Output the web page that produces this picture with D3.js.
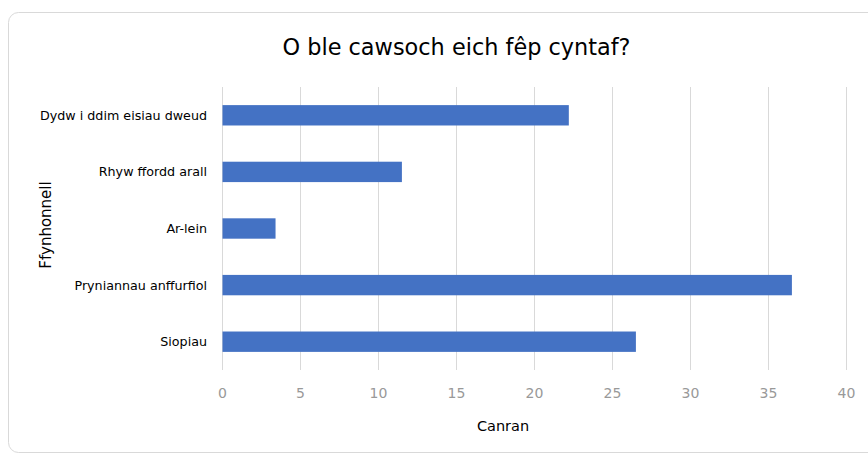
<!DOCTYPE html>
<html>
<head>
<meta charset="utf-8">
<script src="https://cdn.jsdelivr.net/npm/d3@7"></script>
<style>
  body { margin: 0; background: #fff; }
  text { font-family: "DejaVu Sans", sans-serif; }
</style>
</head>
<body>
<div id="chart"></div>
<script>
let width = 868,
	height = 455;

const title = 'O ble cawsoch eich fêp cyntaf?';
const categories = ['Dydw i ddim eisiau dweud', 'Rhyw ffordd arall', 'Ar-lein', 'Pryniannau anffurfiol', 'Siopiau'];
const values = [22.2, 11.5, 3.4, 36.5, 26.5];
const xTicks = [0, 5, 10, 15, 20, 25, 30, 35, 40];
const xTitle = 'Canran';
const yTitle = 'Ffynhonnell';

let svg = d3.select('#chart').append('svg').attr('width', width).attr('height', height);

// chart frame
svg.append('rect')
	.attr('x', 8.5).attr('y', 12.5)
	.attr('width', 880).attr('height', 440)
	.attr('rx', 10)
	.attr('fill', '#fff').attr('stroke', '#d9d9d9');

let x = d3.scaleLinear().domain([0, 40]).range([222, 846]);
let y = d3.scaleBand().domain(categories).range([87, 370]).paddingInner(0.64).paddingOuter(0.32);

// gridlines
svg.append('g').selectAll('line').data(xTicks).enter().append('line')
	.attr('x1', d => x(d) + 0.5).attr('x2', d => x(d) + 0.5)
	.attr('y1', 87).attr('y2', 370)
	.attr('stroke', '#d9d9d9').attr('stroke-width', 1);

// bars
svg.append('g').selectAll('rect').data(values).enter().append('rect')
	.attr('x', x(0) + 0.5)
	.attr('y', (d, i) => y(categories[i]))
	.attr('width', d => x(d) - x(0))
	.attr('height', y.bandwidth())
	.attr('fill', '#4472c4');

// x tick labels
svg.append('g').selectAll('text').data(xTicks).enter().append('text')
	.attr('x', d => x(d) + 0.5).attr('y', 398)
	.attr('text-anchor', 'middle')
	.attr('font-size', 14)
	.attr('fill', '#999')
	.text(d => d);

// category labels
svg.append('g').selectAll('text').data(categories).enter().append('text')
	.attr('x', 207)
	.attr('y', d => y(d) + y.bandwidth() / 2 + 4.5)
	.attr('text-anchor', 'end')
	.attr('font-size', 12.7)
	.attr('fill', '#000')
	.text(d => d);

// titles
svg.append('text')
	.attr('x', 456.5).attr('y', 55)
	.attr('text-anchor', 'middle')
	.attr('font-size', 22.4)
	.attr('fill', '#000')
	.text(title);

svg.append('text')
	.attr('x', 503).attr('y', 431)
	.attr('text-anchor', 'middle')
	.attr('font-size', 14.5)
	.attr('fill', '#000')
	.text(xTitle);

svg.append('text')
	.attr('transform', 'translate(51, 225) rotate(-90)')
	.attr('text-anchor', 'middle')
	.attr('font-size', 15)
	.attr('fill', '#000')
	.text(yTitle);
</script>
</body>
</html>
